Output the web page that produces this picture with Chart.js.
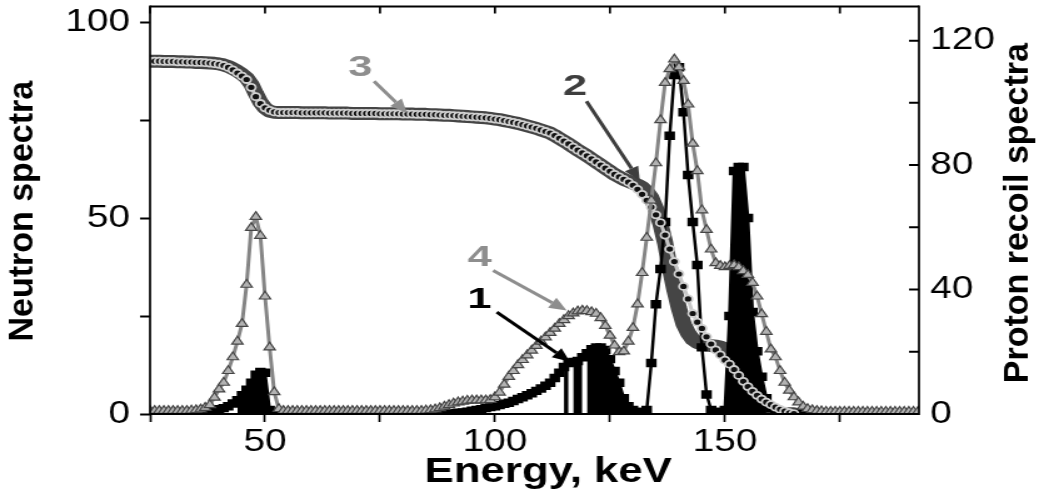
<!DOCTYPE html>
<html><head><meta charset="utf-8">
<script src="https://cdn.jsdelivr.net/npm/chart.js@4"></script>
<style>
html,body{margin:0;padding:0;background:#fff;overflow:hidden}
#wrap{width:843px;height:499px;transform:scaleX(1.25031);transform-origin:0 0}
</style>
</head><body>
<div id="wrap"><canvas id="c" width="843" height="499"></canvas></div>
<script>
// ---- data ----
const energy = [
 25,26,27,28,29,30,31,32,33,34,
 35,36,37,38,39,40,41,42,43,44,
 45,46,47,48,49,50,51,52,53,54,
 55,56,57,58,59,60,61,62,63,64,
 65,66,67,68,69,70,71,72,73,74,
 75,76,77,78,79,80,81,82,83,84,
 85,86,87,88,89,90,91,92,93,94,
 95,96,97,98,99,100,101,102,103,104,
 105,106,107,108,109,110,111,112,113,114,
 115,116,117,118,119,120,121,122,123,124,
 125,126,127,128,129,130,131,132,133,134,
 135,136,137,138,139,140,141,142,143,144,
 145,146,147,148,149,150,151,152,153,154,
 155,156,157,158,159,160,161,162,163,164,
 165,166,167,168,169,170,171,172,173,174,
 175,176,177,178,179,180,181,182,183,184,
 185,186,187,188,189,190,191,192
];
// curve 1: neutron spectrum (black squares, left axis)
const neutron1 = [
 0.1,0.1,0.1,0.1,0.1,0.1,0.2,0.2,0.2,0.3,
 0.3,0.4,0.5,0.7,0.9,1.2,1.5,2.0,2.7,3.5,
 4.8,6.2,8.0,10.0,10.7,10.5,1.0,0.2,0.1,0.1,
 0.1,0.1,0.1,0.1,0.1,0.1,0.1,0.1,0.1,0.1,
 0.1,0.1,0.1,0.1,0.1,0.1,0.1,0.1,0.1,0.1,
 0.1,0.1,0.1,0.1,0.1,0.1,0.1,0.1,0.1,0.1,
 0.1,0.1,0.1,0.1,0.1,0.2,0.2,0.3,0.4,0.6,
 0.8,1.0,1.2,1.5,1.8,2.0,2.3,2.6,2.9,3.3,
 3.8,4.3,4.8,5.3,5.9,6.5,7.2,8.0,9.2,10.5,
 12.0,13.0,13.3,13.5,14.5,15.5,16.5,17.0,17.0,16.3,
 14.0,11.0,8.0,4.0,2.0,1.0,0.5,0.5,1.0,13.0,
 28.0,37.0,49.0,71.0,86.5,88.5,77.0,61.0,49.0,38.0,
 17.0,5.0,1.0,0.5,0.5,1.0,25.0,62.0,63.0,63.0,
 50.0,26.0,16.0,9.5,4.0,1.5,0.3,0.1,0.1,0.1,
 0.1,0.1,0.1,0.1,0.1,0.1,0.1,0.1,0.1,0.1,
 0.1,0.1,0.1,0.1,0.1,0.1,0.1,0.1,0.1,0.1,
 0.1,0.1,0.1,0.1,0.1,0.1,0.1,0.1
];
// energy ranges where curve 1 looks solid (dense points) in the reference
const solidRanges = [[44,51],[115,116],[117,119],[120,129],[150,159]];
// curve 2: proton recoil spectrum (thick dark line, right axis)
const proton2 = [
 113.4,113.4,113.4,113.3,113.3,113.3,113.2,113.2,113.1,113.1,
 113.0,113.0,112.9,112.8,112.7,112.5,112.2,111.7,111.0,110.2,
 109.2,108.0,106.0,103.0,100.2,98.3,97.3,97.0,96.9,96.9,
 96.9,96.9,96.9,96.8,96.8,96.8,96.8,96.8,96.8,96.7,
 96.7,96.7,96.7,96.7,96.6,96.6,96.6,96.6,96.6,96.6,
 96.5,96.5,96.5,96.5,96.5,96.4,96.4,96.4,96.3,96.3,
 96.3,96.2,96.2,96.1,96.0,96.0,95.9,95.8,95.7,95.6,
 95.5,95.4,95.3,95.2,95.0,94.8,94.6,94.3,94.0,93.7,
 93.4,93.0,92.6,92.2,91.8,91.3,90.8,90.3,89.5,88.6,
 87.7,86.8,85.8,84.8,83.9,83.0,82.0,81.0,80.0,79.0,
 78.0,77.0,76.2,75.4,74.8,74.2,73.6,72.8,71.5,69.5,
 66.0,61.0,55.0,47.0,40.0,34.0,29.0,26.0,24.0,23.0,
 22.5,22.2,22.0,21.8,21.5,21.0,20.0,18.0,15.0,11.5,
 8.0,5.0,3.0,1.5,0.6,0.2,0.1,0.1,0.1,0.1,
 0.1,null,null,null,null,null,null,null,null,null,
 null,null,null,null,null,null,null,null,null,null,
 null,null,null,null,null,null,null,null
];
// curve 3: proton recoil spectrum (circles, right axis)
const proton3 = [
 113.4,113.4,113.4,113.3,113.3,113.3,113.2,113.2,113.1,113.1,
 113.0,113.0,112.9,112.8,112.6,112.4,112.0,111.4,110.6,109.6,
 108.6,107.5,105.0,102.0,99.8,98.4,97.6,97.1,96.9,96.9,
 96.9,96.9,96.9,96.8,96.8,96.8,96.8,96.8,96.8,96.7,
 96.7,96.7,96.7,96.7,96.6,96.6,96.6,96.6,96.6,96.6,
 96.5,96.5,96.5,96.5,96.5,96.4,96.4,96.4,96.3,96.3,
 96.3,96.2,96.2,96.1,96.0,96.0,95.9,95.8,95.7,95.6,
 95.5,95.4,95.3,95.2,95.0,94.8,94.6,94.3,94.0,93.7,
 93.4,93.0,92.6,92.2,91.8,91.3,90.8,90.3,89.5,88.6,
 87.7,86.8,85.8,84.8,83.9,83.0,82.0,81.0,80.0,79.0,
 78.0,77.0,76.2,75.4,74.5,73.5,72.2,70.6,68.7,66.5,
 64.0,61.5,57.5,53.0,49.0,45.0,41.0,37.0,32.3,29.5,
 27.5,24.8,22.5,20.6,19.0,17.3,16.0,14.3,12.4,10.5,
 8.8,7.3,6.0,4.8,3.8,3.0,2.2,1.5,0.9,0.4,
 0.1,null,null,null,null,null,null,null,null,null,
 null,null,null,null,null,null,null,null,null,null,
 null,null,null,null,null,null,null,null
];
// curve 4: neutron spectrum (triangles, left axis)
const neutron4 = [
 0.8,0.8,0.8,0.8,0.8,0.8,0.8,0.8,0.8,0.9,
 1.0,1.2,1.6,2.3,4.2,6.3,8.0,11.0,14.5,18.5,
 23.0,33.0,47.5,50.3,45.5,30.0,17.0,5.6,1.3,0.8,
 0.8,0.8,0.8,0.8,0.8,0.8,0.8,0.8,0.8,0.8,
 0.8,0.8,0.8,0.8,0.8,0.8,0.8,0.8,0.8,0.8,
 0.8,0.8,0.8,0.8,0.8,0.8,0.8,0.8,0.8,0.8,
 0.9,1.0,1.2,1.5,1.9,2.3,2.7,3.0,3.2,3.4,
 3.5,3.5,3.5,3.5,3.6,4.3,5.5,7.5,9.5,11.0,
 12.5,13.8,15.0,16.2,17.4,18.5,19.6,20.7,21.8,23.0,
 24.0,25.0,25.7,26.2,26.4,26.3,26.0,25.6,24.5,22.5,
 20.0,17.5,15.8,16.0,18.5,22.0,28.0,36.0,45.0,54.5,
 64.0,75.0,84.5,88.0,90.5,88.5,85.0,79.0,69.0,62.0,
 52.0,47.0,42.0,38.5,37.8,37.5,37.8,38.0,37.5,36.5,
 35.5,33.5,30.0,25.5,21.0,16.5,14.5,11.0,8.0,6.0,
 4.3,3.0,1.9,1.3,1.0,0.8,0.7,0.6,0.6,0.6,
 0.6,0.6,0.6,0.6,0.6,0.6,0.6,0.6,0.6,0.6,
 0.6,0.6,0.6,0.6,0.6,0.6,0.6,0.6
];
const xTicks = [25,50,75,100,125,150,175];
const xLabeled = [50,100,150];
const leftTicks = [0,25,50,75,100];
const leftLabeled = [0,50,100];
const rightTicks = [0,20,40,60,80,100,120];
const rightLabeled = [0,40,80,120];
// annotation numbers and arrows, in data units (x: keV, y: left axis)
const annoText = ['3','2','4','1'];
const annoTextX = [70.7,117.4,96.7,96.6];
const annoTextY = [88.2,83.5,39.9,29.0];
const arrowFromX = [73.7,119.9,99.6,100.4];
const arrowFromY = [84.9,79.8,36.6,26.0];
const arrowToX = [80.9,131.5,115.6,116.3];
const arrowToY = [76.8,59.5,26.4,13.3];

const S = 1054/843;
const FONT = '"Liberation Sans", Arial, Helvetica, sans-serif';
const annoColor = ['#8e8e8e','#3e3e3e','#8e8e8e','#000000'];

function inSolid(v){ return solidRanges.some(r=>v>=r[0] && v<r[1]); }

function arrow(ctx,x1,y1,x2,y2,color,w){
  const ang = Math.atan2(y2-y1,x2-x1), L=14, H=6;
  const bx = x2-L*Math.cos(ang), by = y2-L*Math.sin(ang);
  ctx.strokeStyle=color; ctx.lineWidth=w; ctx.lineCap='butt';
  ctx.beginPath(); ctx.moveTo(x1,y1); ctx.lineTo(bx,by); ctx.stroke();
  ctx.fillStyle=color; ctx.beginPath(); ctx.moveTo(x2,y2);
  ctx.lineTo(bx+H*Math.sin(ang), by-H*Math.cos(ang));
  ctx.lineTo(bx-H*Math.sin(ang), by+H*Math.cos(ang));
  ctx.closePath(); ctx.fill();
}
function vertText(ctx,text,cx,cy){
  ctx.save(); ctx.translate(cx,cy); ctx.scale(1/S,1); ctx.rotate(-Math.PI/2);
  ctx.font='bold 34px '+FONT; ctx.fillStyle='#000';
  ctx.textAlign='center'; ctx.textBaseline='middle';
  ctx.fillText(text,0,0); ctx.restore();
}

const decor = {
  id:'decor',
  afterDraw(chart){
    const {ctx, chartArea:a, scales} = chart;
    const x=scales.x, y=scales.y, y2=scales.y2;
    ctx.save();
    ctx.strokeStyle='#000';
    ctx.lineWidth=2;
    ctx.beginPath();
    ctx.moveTo(a.left,a.top); ctx.lineTo(a.right,a.top);
    ctx.moveTo(a.left,a.bottom); ctx.lineTo(a.right,a.bottom);
    ctx.stroke();
    ctx.lineWidth=1.7;
    ctx.beginPath();
    ctx.moveTo(a.left,a.top-1); ctx.lineTo(a.left,a.bottom+1);
    ctx.moveTo(a.right,a.top-1); ctx.lineTo(a.right,a.bottom+1);
    ctx.stroke();
    ctx.beginPath();
    xTicks.forEach(v=>{const px=x.getPixelForValue(v); ctx.moveTo(px,a.top); ctx.lineTo(px,a.top+7);});
    ctx.stroke();
    ctx.lineWidth=2;
    ctx.beginPath();
    rightTicks.forEach(v=>{const py=y2.getPixelForValue(v); ctx.moveTo(a.right,py); ctx.lineTo(a.right-8,py);});
    ctx.stroke();
    for(let i=0;i<annoText.length;i++){
      arrow(ctx, x.getPixelForValue(arrowFromX[i]), y.getPixelForValue(arrowFromY[i]),
                 x.getPixelForValue(arrowToX[i]), y.getPixelForValue(arrowToY[i]), annoColor[i], 3);
      ctx.save();
      ctx.translate(x.getPixelForValue(annoTextX[i]), y.getPixelForValue(annoTextY[i]));
      ctx.scale(1.2,1);
      ctx.font='bold 29px '+FONT; ctx.fillStyle=annoColor[i];
      ctx.textAlign='center'; ctx.textBaseline='middle';
      ctx.fillText(annoText[i],0,0);
      ctx.restore();
    }
    ctx.fillStyle='#000';
    ctx.font='bold 35px '+FONT;
    ctx.textAlign='center'; ctx.textBaseline='alphabetic';
    ctx.fillText('Energy, keV',(a.left+a.right)/2+11,482);
    vertText(ctx,'Neutron spectra',18.8,(a.top+a.bottom)/2+1);
    vertText(ctx,'Proton recoil spectra',815,(a.top+a.bottom)/2+3);
    ctx.restore();
  }
};

new Chart(document.getElementById('c'),{
  type:'line',
  data:{
    labels: energy,
    datasets:[
      {label:'4', data:neutron4, yAxisID:'y', order:1,
       borderColor:'#858585', borderWidth:3, pointStyle:'triangle', pointRadius:5.2,
       pointBackgroundColor:'#b2b2b2', pointBorderColor:'#454545', pointBorderWidth:1.2},
      {label:'3', data:proton3, yAxisID:'y2', order:2,
       borderColor:'#c6c6c6', borderWidth:3, pointStyle:'circle', pointRadius:3.5,
       pointBackgroundColor:'#111111', pointBorderColor:'#d0d0d0', pointBorderWidth:1.8},
      {label:'1', data:neutron1, yAxisID:'y', order:3,
       borderColor:'#000000', borderWidth:2.5, pointStyle:'rect', pointRadius:6,
       pointBackgroundColor:'#000000', pointBorderColor:'#000000', pointBorderWidth:0,
       fill:'origin', backgroundColor:'rgba(0,0,0,0)',
       segment:{backgroundColor: c => inSolid(c.p0.parsed.x) ? '#000000' : 'rgba(0,0,0,0)'}},
      {label:'2', data:proton2, yAxisID:'y2', order:4,
       borderColor:'#454545', borderWidth:13, pointRadius:0,
       borderJoinStyle:'round', borderCapStyle:'round'}
    ]
  },
  options:{
    responsive:false, animation:false, maintainAspectRatio:false,
    layout:{padding:{top:5,left:0,right:0,bottom:0}},
    elements:{line:{tension:0}},
    plugins:{legend:{display:false}, tooltip:{enabled:false}, filler:{propagate:false}},
    scales:{
      x:{type:'linear', position:'bottom', min:25, max:192.2,
         afterBuildTicks:s=>{s.ticks=xTicks.map(v=>({value:v}));},
         afterFit:s=>{s.height=85; s.paddingLeft=0; s.paddingRight=0;},
         ticks:{autoSkip:false, maxRotation:0, padding:2, color:'#000',
                font:{family:FONT,size:31},
                callback:v=>xLabeled.includes(v)?String(v):''},
         grid:{drawOnChartArea:false, drawTicks:true, tickLength:8, tickWidth:1.7, tickColor:'#000', color:'#000'},
         border:{display:false}},
      y:{type:'linear', position:'left', min:0, max:104.0,
         afterBuildTicks:s=>{s.ticks=leftTicks.map(v=>({value:v}));},
         afterFit:s=>{s.width=120; s.paddingTop=0; s.paddingBottom=0;},
         ticks:{autoSkip:false, padding:8, color:'#000',
                font:{family:FONT,size:31},
                callback:v=>leftLabeled.includes(v)?String(v):''},
         grid:{drawOnChartArea:false, drawTicks:true, tickLength:8, tickWidth:2, tickColor:'#000', color:'#000'},
         border:{display:false}},
      y2:{type:'linear', position:'right', min:0, max:131.0,
         afterBuildTicks:s=>{s.ticks=rightTicks.map(v=>({value:v}));},
         afterFit:s=>{s.width=108; s.paddingTop=0; s.paddingBottom=0;},
         ticks:{autoSkip:false, padding:9, color:'#000',
                font:{family:FONT,size:31},
                callback:v=>rightLabeled.includes(v)?String(v):''},
         grid:{display:false, drawOnChartArea:false, drawTicks:false},
         border:{display:false}}
    }
  },
  plugins:[decor]
});
</script>
</body></html>
